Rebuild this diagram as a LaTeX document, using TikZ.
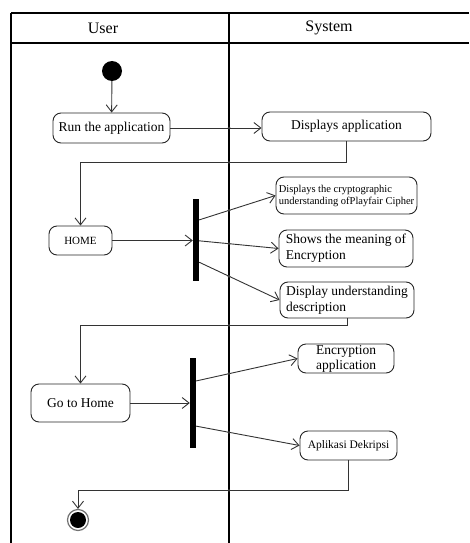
\documentclass[tikz,border=0pt]{standalone}
\usepackage{fontspec}
\setmainfont{Liberation Serif}
\usetikzlibrary{arrows.meta,calc}
\begin{document}
\begin{tikzpicture}[x=1pt,y=-1pt,
  act/.style={draw=black!85, line width=0.9pt, rounded corners=8pt, inner sep=2pt, align=left, font=\fontsize{13.5}{16}\selectfont},
  flow/.style={draw=black!80, line width=0.9pt, -{Straight Barb[length=7pt,width=11pt]}},
  plainline/.style={draw=black!80, line width=0.9pt},
  lane/.style={line width=2pt},
  barnode/.style={fill=black, draw=none, minimum width=6pt, inner sep=0pt},
  jdot/.style={fill=black!80},
  hdr/.style={font=\fontsize{16}{19}\selectfont}]
\useasboundingbox (0,0) rectangle (469,543);
% swimlane frame
\coordinate (divtop) at (229,13);
\coordinate (divbot) at (229,543);
\draw[lane] (11,13) -- (469,13);
\draw[lane] (11,43) -- (469,43);
\draw[lane] (11,13) -- (11,543);
\draw[lane] (divtop) -- (divbot);
\node[hdr] (user) at (103,28) {User};
\node[hdr] (system) at (329,28) {System};
% nodes
\node[circle, fill=black, minimum size=20pt, inner sep=0pt] (start) at (112,71) {};
\node[act, minimum width=117pt, minimum height=30pt, align=center] (run) at (111.5,128) {Run the application};
\node[act, minimum width=169pt, minimum height=29pt, align=center] (disp) at (346.5,126.5) {Displays application};
\node[act, minimum width=63pt, minimum height=29pt, font=\fontsize{11}{13}\selectfont] (home) at (80.5,240.5) {HOME};
\node[barnode, minimum height=82pt] (bar1) at (196,240) {};
\node[act, minimum width=141pt, minimum height=37pt, inner sep=1pt, font=\fontsize{10.5}{12}\selectfont] (b1) at (346.5,195.5) {Displays the cryptographic\\understanding ofPlayfair Cipher};
\node[act, minimum width=134pt, minimum height=37pt] (b2) at (346,248.5) {Shows the meaning of\\Encryption};
\node[act, minimum width=134pt, minimum height=36pt] (b3) at (347,300) {Display understanding\\description};
\node[act, minimum width=99pt, minimum height=38pt, align=center] (goh) at (80.5,403) {Go to Home};
\node[barnode, minimum height=90pt] (bar2) at (193,403) {};
\node[act, minimum width=96pt, minimum height=29pt, inner sep=0pt, align=center, font=\fontsize{13.5}{15}\selectfont] (enc) at (346,358.5) {Encryption\\application};
\node[act, minimum width=97pt, minimum height=29pt, align=center, font=\fontsize{11.5}{14}\selectfont] (apl) at (348.5,445.5) {Aplikasi Dekripsi};
\node[circle, draw=black!55, line width=1.2pt, minimum size=21pt, inner sep=0pt] (end) at (78,520) {};
\fill (end.center) circle (8pt);
% fork points
\coordinate (f1a) at ($(bar1.north east)!0.256!(bar1.south east)$);
\coordinate (f1b) at ($(bar1.north east)!0.51!(bar1.south east)$);
\coordinate (f1c) at ($(bar1.north east)!0.77!(bar1.south east)$);
\coordinate (f2a) at ($(bar2.north east)!0.256!(bar2.south east)$);
\coordinate (f2b) at ($(bar2.north east)!0.756!(bar2.south east)$);
\coordinate (b1w) at (b1.west);
\coordinate (b2w) at (b2.west);
\coordinate (b3w) at (b3.west);
\coordinate (encw) at (enc.west);
\coordinate (aplw) at (apl.west);
\coordinate (c1) at ($(disp.south)+(0,21)$);
\coordinate (c2) at ($(b3.south)+(0,7)$);
\coordinate (c3) at ($(apl.south)+(0,30)$);
% connectors
\draw[flow] (start) -- (run);
\draw[flow] (run.east) -- (disp.west |- run.east);
\draw[flow] (disp.south) -- (c1) -| (home.north);
\draw[flow] (home.east) -- (bar1.west |- home.east);
\draw[flow] (f1a) -- (b1w);
\draw[flow] (f1b) -- (b2w);
\draw[flow] (f1c) -- (b3w);
\draw[flow] (b3.south) -- (c2) -| (goh.north);
\draw[flow] (goh.east) -- (bar2.west |- goh.east);
\draw[flow] (f2a) -- (encw);
\draw[flow] (f2b) -- (aplw);
\draw[flow] (apl.south) -- (c3) -| (end.north);
% junction dots on the lane divider
\fill[jdot] (divtop |- run.east) circle (1.5pt);
\fill[jdot] (divtop |- c1) circle (1.5pt);
\fill[jdot] (intersection of f1a--b1w and divtop--divbot) circle (1.5pt);
\fill[jdot] (intersection of f1b--b2w and divtop--divbot) circle (1.5pt);
\fill[jdot] (intersection of f1c--b3w and divtop--divbot) circle (1.5pt);
\fill[jdot] (divtop |- c2) circle (1.5pt);
\fill[jdot] (intersection of f2a--encw and divtop--divbot) circle (1.5pt);
\fill[jdot] (intersection of f2b--aplw and divtop--divbot) circle (1.5pt);
\fill[jdot] (divtop |- c3) circle (1.5pt);
\end{tikzpicture}
\end{document}
